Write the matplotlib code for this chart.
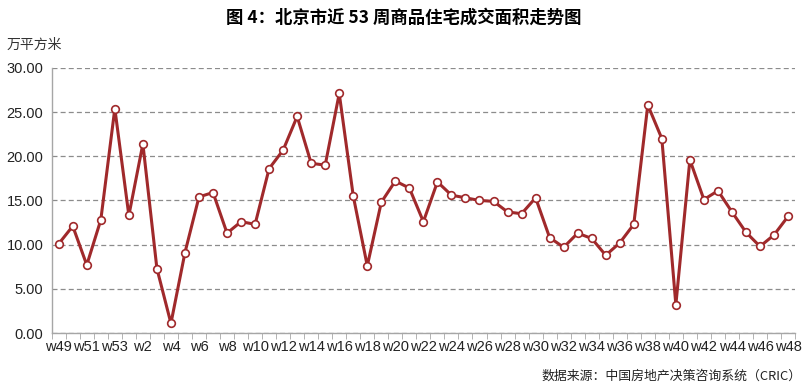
import matplotlib
matplotlib.use("Agg")
import matplotlib.pyplot as plt
from matplotlib.ticker import FixedLocator, FormatStrFormatter

plt.rcParams["font.family"] = ["Liberation Sans", "Noto Sans CJK SC", "DejaVu Sans"]

# ── data ────────────────────────────────────────────────────────────────
weeks = ["w49", "w50", "w51", "w52", "w53"] + [f"w{i}" for i in range(1, 49)]
area = [10.1, 12.1, 7.7, 12.8, 25.4,
        13.3, 21.4, 7.3, 1.1, 9.1, 15.4, 15.9, 11.3, 12.6, 12.3,
        18.6, 20.7, 24.5, 19.2, 19.0, 27.1, 15.5, 7.6, 14.8, 17.2,
        16.4, 12.6, 17.1, 15.6, 15.3, 15.0, 14.9, 13.7, 13.5, 15.3,
        10.8, 9.7, 11.3, 10.7, 8.8, 10.2, 12.3, 25.8, 22.0, 3.2,
        19.6, 15.1, 16.1, 13.7, 11.4, 9.8, 11.1, 13.2]
y_ticks = [0, 5, 10, 15, 20, 25, 30]

line_color = "#A0292B"

fig = plt.figure(figsize=(8.08, 3.9), dpi=100)
ax = fig.add_axes([0.064, 0.146, 0.920, 0.680])

x = list(range(len(weeks)))
ax.plot(x, area, color=line_color, lw=2.2, marker="o", ms=5.5,
        mfc="white", mec=line_color, mew=1.2, zorder=3)

ax.set_xlim(-0.5, len(weeks) - 0.5)
ax.set_ylim(0, 30)
ax.set_yticks(y_ticks)
ax.yaxis.set_major_formatter(FormatStrFormatter("%.2f"))
ax.grid(axis="y", color="#8c8c8c", ls=(0, (4, 2.5)), lw=0.9)
ax.set_axisbelow(True)

# labels on every other week, tick marks on category boundaries
ax.set_xticks(x[::2])
ax.set_xticklabels(weeks[::2])
ax.xaxis.set_minor_locator(FixedLocator([i - 0.5 for i in range(len(weeks) + 1)]))
ax.tick_params(axis="x", which="major", length=0, pad=5, labelsize=10.5, colors="#222222")
ax.tick_params(axis="x", which="minor", length=4, color="#a6a6a6", direction="out")
ax.tick_params(axis="y", length=0, pad=6, labelsize=10.5, colors="#222222")

for side in ("top", "right"):
    ax.spines[side].set_visible(False)
for side in ("left", "bottom"):
    ax.spines[side].set_color("#a6a6a6")
    ax.spines[side].set_linewidth(1.0)

fig.text(0.5, 0.955, "图 4：北京市近 53 周商品住宅成交面积走势图", ha="center", va="center",
         fontsize=12.5, fontweight="bold",
         family=["Noto Sans CJK SC", "DejaVu Sans"])
fig.text(0.008, 0.885, "万平方米", ha="left", va="center", fontsize=10,
         color="#333333", family=["Noto Sans CJK SC", "DejaVu Sans"])
fig.text(0.992, 0.035, "数据来源：中国房地产决策咨询系统（CRIC）", ha="right", va="center",
         fontsize=9.3, color="#222222", family=["Noto Sans CJK SC", "DejaVu Sans"])

fig.savefig("out.png", dpi=100)
